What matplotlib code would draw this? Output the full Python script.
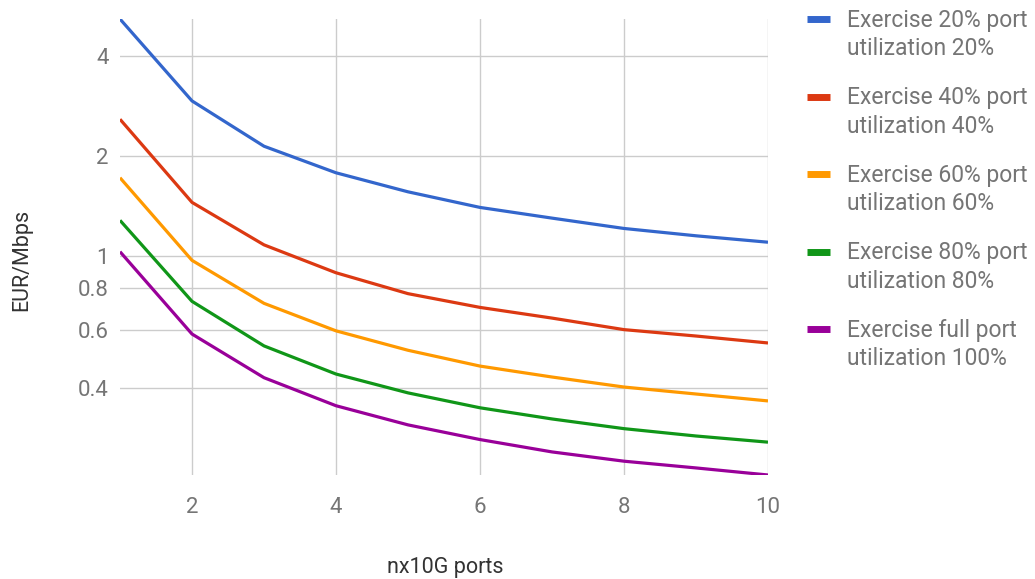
import matplotlib.pyplot as plt
from matplotlib.lines import Line2D
from matplotlib.ticker import FixedLocator, NullLocator

plt.rcParams['font.family'] = ['Roboto', 'DejaVu Sans']

# Datos
puertos = [1, 2, 3, 4, 5, 6, 7, 8, 9, 10]
util_20 = [5.17, 2.93, 2.14, 1.78, 1.56, 1.40, 1.30, 1.21, 1.15, 1.10]
util_40 = [2.58, 1.45, 1.08, 0.89, 0.77, 0.70, 0.65, 0.60, 0.574, 0.547]
util_60 = [1.72, 0.97, 0.72, 0.595, 0.52, 0.466, 0.432, 0.403, 0.384, 0.366]
util_80 = [1.28, 0.73, 0.536, 0.441, 0.387, 0.349, 0.323, 0.302, 0.287, 0.275]
util_100 = [1.03, 0.582, 0.43, 0.354, 0.31, 0.28, 0.257, 0.241, 0.23, 0.219]

series = [util_20, util_40, util_60, util_80, util_100]
etiquetas = ['Exercise 20% port\nutilization 20%',
             'Exercise 40% port\nutilization 40%',
             'Exercise 60% port\nutilization 60%',
             'Exercise 80% port\nutilization 80%',
             'Exercise full port\nutilization 100%']
colores = ['#3366cc', '#dc3912', '#ff9900', '#109618', '#990099']
yticks = [0.4, 0.6, 0.8, 1, 2, 4]
xticks = [2, 4, 6, 8, 10]

gris = '#757575'

fig = plt.figure(figsize=(10.35, 5.79), dpi=100)
ax = fig.add_axes([120 / 1035, 1 - 475 / 579, (768 - 120) / 1035, (475 - 19) / 579])

for vals, col in zip(series, colores):
    ax.plot(puertos, vals, color=col, linewidth=2.3, solid_capstyle='butt', zorder=3)

ax.set_yscale('log')
ax.set_xlim(1, 10)
ax.set_ylim(min(util_100), max(util_20))
ax.yaxis.set_major_locator(FixedLocator(yticks))
ax.yaxis.set_minor_locator(NullLocator())
ax.set_yticklabels([f'{v:g}' for v in yticks])
ax.set_xticks(xticks)

ax.grid(True, color='#cccccc', linewidth=1)
for s in ax.spines.values():
    s.set_visible(False)
ax.tick_params(length=0, labelsize=16, colors=gris)
ax.tick_params(axis='x', pad=16)
ax.tick_params(axis='y', pad=8)

fig.text(22 / 1035, 1 - 260 / 579, 'EUR/Mbps', rotation=90, ha='center', va='center',
         fontsize=15.5, color='#333333')
fig.text(445 / 1035, 1 - 567 / 579, 'nx10G ports', ha='center', va='center',
         fontsize=15.5, color='#333333')

# Leyenda manual, el marcador alineado con la primera línea
for i, (lab, col) in enumerate(zip(etiquetas, colores)):
    y = 1 - (19 + 77.5 * i) / 579
    fig.add_artist(Line2D([807 / 1035, 830 / 1035], [y, y], color=col, linewidth=5,
                          solid_capstyle='butt', transform=fig.transFigure))
    fig.text(847 / 1035, y + 10 / 579, lab, ha='left', va='top', fontsize=16.5,
             color=gris, linespacing=1.3)

fig.savefig('out.png', dpi=100)
